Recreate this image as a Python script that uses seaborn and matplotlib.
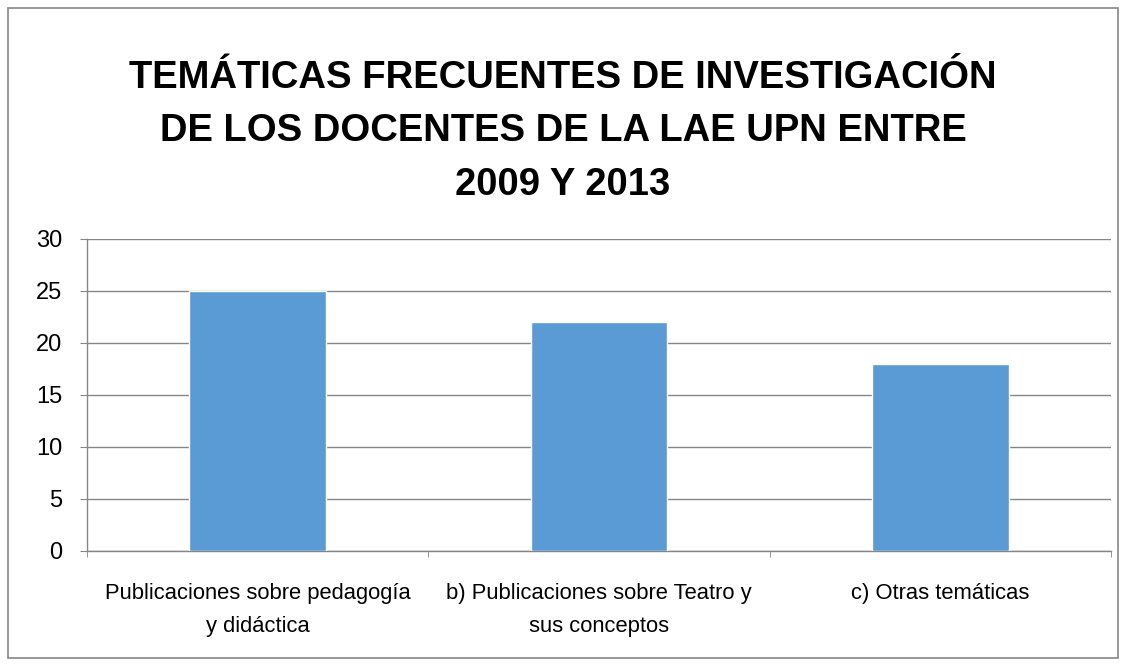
import pandas as pd
import matplotlib.pyplot as plt
import seaborn as sns
from matplotlib.patches import Rectangle

# Datos
categorias = [
    "Publicaciones sobre pedagogía\ny didáctica",
    "b) Publicaciones sobre Teatro y\nsus conceptos",
    "c) Otras temáticas",
]
valores = [25, 22, 18]
y_ticks = [0, 5, 10, 15, 20, 25, 30]
titulo = "TEMÁTICAS FRECUENTES DE INVESTIGACIÓN\nDE LOS DOCENTES DE LA LAE UPN ENTRE\n2009 Y 2013"

sns.set_style("white")
plt.rcParams['font.family'] = ['Liberation Sans Narrow', 'Liberation Sans', 'DejaVu Sans']
plt.rcParams['text.color'] = 'black'
plt.rcParams['xtick.color'] = 'black'
plt.rcParams['ytick.color'] = 'black'

GRIS = '#868686'
AZUL = '#5b9bd5'

df = pd.DataFrame({'cat': categorias, 'val': valores})

fig = plt.figure(figsize=(11.26, 6.66), dpi=100)
ax = fig.add_axes([0.0773, 0.1727, 0.9094, 0.4685])

sns.barplot(data=df, x='cat', y='val', color=AZUL, width=0.4,
            saturation=1, ax=ax, zorder=3)

ax.set_xlim(-0.5, 2.5)
ax.set_ylim(0, 30)
ax.set_yticks(y_ticks)
ax.set_xlabel("")
ax.set_ylabel("")
ax.grid(True, axis='y', color=GRIS, linewidth=1, zorder=0)
ax.grid(False, axis='x')
for s in ['top', 'right']:
    ax.spines[s].set_visible(False)
for s in ['left', 'bottom']:
    ax.spines[s].set_color(GRIS)
    ax.spines[s].set_linewidth(1)

ax.tick_params(axis='y', length=5, color=GRIS, labelcolor='black', labelsize=17, pad=13, left=True)
ax.tick_params(axis='x', which='major', length=0, labelcolor='black', labelsize=15.8, pad=23)
ax.set_xticks([-0.5, 0.5, 1.5, 2.5], minor=True)
ax.tick_params(axis='x', which='minor', length=4.5, color=GRIS, bottom=True)
for lbl in ax.get_xticklabels():
    lbl.set_linespacing(1.75)

fig.text(0.5, 0.803, titulo, ha='center', va='center', fontsize=27.5,
         fontweight='bold', linespacing=1.62, color='black',
         family=['Liberation Sans', 'DejaVu Sans'])

# Borde exterior del gráfico
fig.patches.append(Rectangle((0.007, 0.012), 0.986, 0.976, transform=fig.transFigure,
                             fill=False, edgecolor=GRIS, linewidth=1.2))

plt.savefig("out.png", dpi=100)
